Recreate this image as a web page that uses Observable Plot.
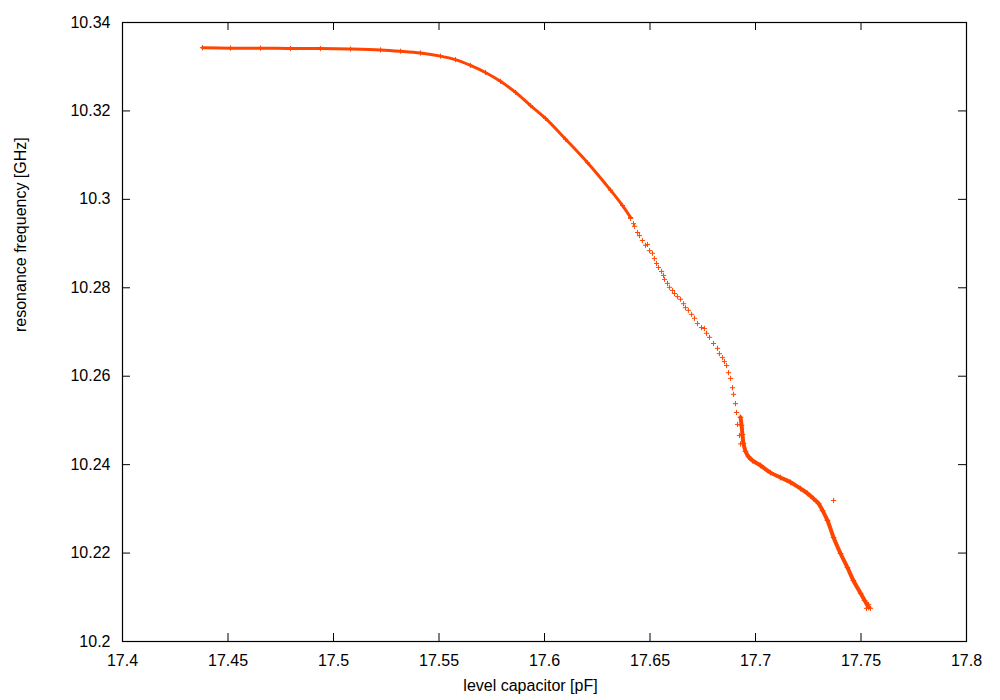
<!DOCTYPE html>
<html>
<head>
<meta charset="utf-8">
<script src="https://cdn.jsdelivr.net/npm/d3@7"></script>
<script src="https://cdn.jsdelivr.net/npm/@observablehq/plot@0.6"></script>
<style>
  html, body { margin: 0; padding: 0; background: #fff; }
  #chart { width: 1000px; height: 700px; }
</style>
</head>
<body>
<div id="chart"></div>
<script>
// ---- data ----
const xLabel = "level capacitor [pF]";
const yLabel = "resonance frequency [GHz]";
const xTicks = [17.4, 17.45, 17.5, 17.55, 17.6, 17.65, 17.7, 17.75, 17.8];
const yTicks = [10.2, 10.22, 10.24, 10.26, 10.28, 10.3, 10.32, 10.34];

// dense section 1 (plateau and knee)
const denseAX = [17.4379, 17.4512, 17.4654, 17.4796, 17.4938, 17.5081, 17.5223, 17.5318, 17.5412, 17.5507, 17.5578, 17.5649, 17.5720, 17.5791, 17.5863, 17.5934, 17.6005, 17.6100, 17.6204, 17.6313, 17.6370, 17.6408];
const denseAY = [10.3343, 10.3342, 10.3342, 10.3341, 10.3341, 10.3340, 10.3338, 10.3335, 10.3331, 10.3324, 10.3316, 10.3303, 10.3287, 10.3267, 10.3242, 10.3212, 10.3183, 10.3136, 10.3083, 10.3021, 10.2986, 10.2959];

// sparse section (individual points)
const sparseX = [17.6408, 17.6422, 17.6427, 17.6441, 17.6450, 17.6464, 17.6479, 17.6488, 17.6498, 17.6512, 17.6521, 17.6531, 17.6540, 17.6555, 17.6564, 17.6569, 17.6583, 17.6592, 17.6607, 17.6616, 17.6630, 17.6645, 17.6659, 17.6668, 17.6682, 17.6697, 17.6711, 17.6725, 17.6744, 17.6758, 17.6768, 17.6782, 17.6801, 17.6820, 17.6829, 17.6844, 17.6853, 17.6863, 17.6872, 17.6882, 17.6891, 17.6896, 17.6905, 17.6910, 17.6915, 17.6924, 17.6929];
const sparseY = [10.2957, 10.2945, 10.2939, 10.2925, 10.2918, 10.2907, 10.2896, 10.2898, 10.2884, 10.2878, 10.2866, 10.2855, 10.2846, 10.2837, 10.2828, 10.2819, 10.2810, 10.2801, 10.2794, 10.2787, 10.2780, 10.2774, 10.2764, 10.2755, 10.2749, 10.2740, 10.2731, 10.2719, 10.2710, 10.2708, 10.2697, 10.2688, 10.2674, 10.2663, 10.2651, 10.2642, 10.2633, 10.2624, 10.2608, 10.2595, 10.2574, 10.2559, 10.2538, 10.2518, 10.2491, 10.2466, 10.2447];

// dense section 2 (step and tail)
const denseBX = [17.6929, 17.6934, 17.6938, 17.6943, 17.6953, 17.6967, 17.6986, 17.7024, 17.7071, 17.7118, 17.7166, 17.7213, 17.7246, 17.7275, 17.7299, 17.7318, 17.7341, 17.7370, 17.7403, 17.7436, 17.7464, 17.7498, 17.7517, 17.7536];
const denseBY = [10.2507, 10.2489, 10.2468, 10.2448, 10.2430, 10.2418, 10.2409, 10.2398, 10.2382, 10.2371, 10.2360, 10.2346, 10.2335, 10.2323, 10.2312, 10.2296, 10.2274, 10.2235, 10.2199, 10.2167, 10.2138, 10.2109, 10.2093, 10.2077];

// stray points
const strayX = [17.7370, 17.7526, 17.7545, 17.7536];
const strayY = [10.2319, 10.2075, 10.2075, 10.2084];

// ---- build tables ----
const zip = (xs, ys) => xs.map((x, i) => ({x, y: ys[i]}));
const denseA = zip(denseAX, denseAY);
const denseB = zip(denseBX, denseBY);
const sparse = zip(sparseX, sparseY);
const stray = zip(strayX, strayY);

const color = "#ff4500";
const fmt = d => String(+d.toFixed(3));
const W = 1000, H = 700;
const mL = 122, mR = 34, mT = 22, mB = 59;
const innerW = W - mL - mR, innerH = H - mT - mB;
const tick = 8;

const chart = Plot.plot({
  width: W,
  height: H,
  marginLeft: mL,
  marginRight: mR,
  marginTop: mT,
  marginBottom: mB,
  style: {fontFamily: "'Liberation Sans', Arial, Helvetica, sans-serif", fontSize: "16px", background: "#fff", color: "#000"},
  x: {domain: [17.4, 17.8]},
  y: {domain: [10.2, 10.34]},
  marks: [
    Plot.axisX(xTicks, {tickSize: 0, tickPadding: 13, tickFormat: fmt, label: null, fontSize: 16}),
    Plot.axisY(yTicks, {tickSize: 0, tickPadding: 12, tickFormat: fmt, label: null, fontSize: 16}),
    // inward ticks on all four sides
    Plot.tickX(xTicks, {x: d => d, insetTop: innerH - tick, stroke: "#000"}),
    Plot.tickX(xTicks, {x: d => d, insetBottom: innerH - tick, stroke: "#000"}),
    Plot.tickY(yTicks, {y: d => d, insetRight: innerW - tick, stroke: "#000"}),
    Plot.tickY(yTicks, {y: d => d, insetLeft: innerW - tick, stroke: "#000"}),
    Plot.frame({stroke: "#000", strokeWidth: 1.2}),
    // data
    Plot.line(denseA, {x: "x", y: "y", stroke: color, strokeWidth: 3, curve: "catmull-rom", strokeLinecap: "round"}),
    Plot.line(denseB, {x: "x", y: "y", stroke: color, strokeWidth: 4, curve: "catmull-rom", strokeLinecap: "round"}),
    Plot.dot(denseA, {x: "x", y: "y", symbol: "plus", r: 1.8, stroke: color, strokeWidth: 1}),
    Plot.dot(denseB, {x: "x", y: "y", symbol: "plus", r: 2, stroke: color, strokeWidth: 1}),
    Plot.dot(sparse, {x: "x", y: "y", symbol: "plus", r: 1.8, stroke: color, strokeWidth: 1}),
    Plot.dot(stray, {x: "x", y: "y", symbol: "plus", r: 1.8, stroke: color, strokeWidth: 1}),
    // axis titles
    Plot.text([xLabel], {frameAnchor: "bottom", dy: 49, dx: -14, fontSize: 16, fill: "#000"}),
    Plot.text([yLabel], {frameAnchor: "left", dx: -102, rotate: -90, fontSize: 16, fill: "#000"})
  ]
});
document.getElementById("chart").appendChild(chart);
</script>
</body>
</html>
